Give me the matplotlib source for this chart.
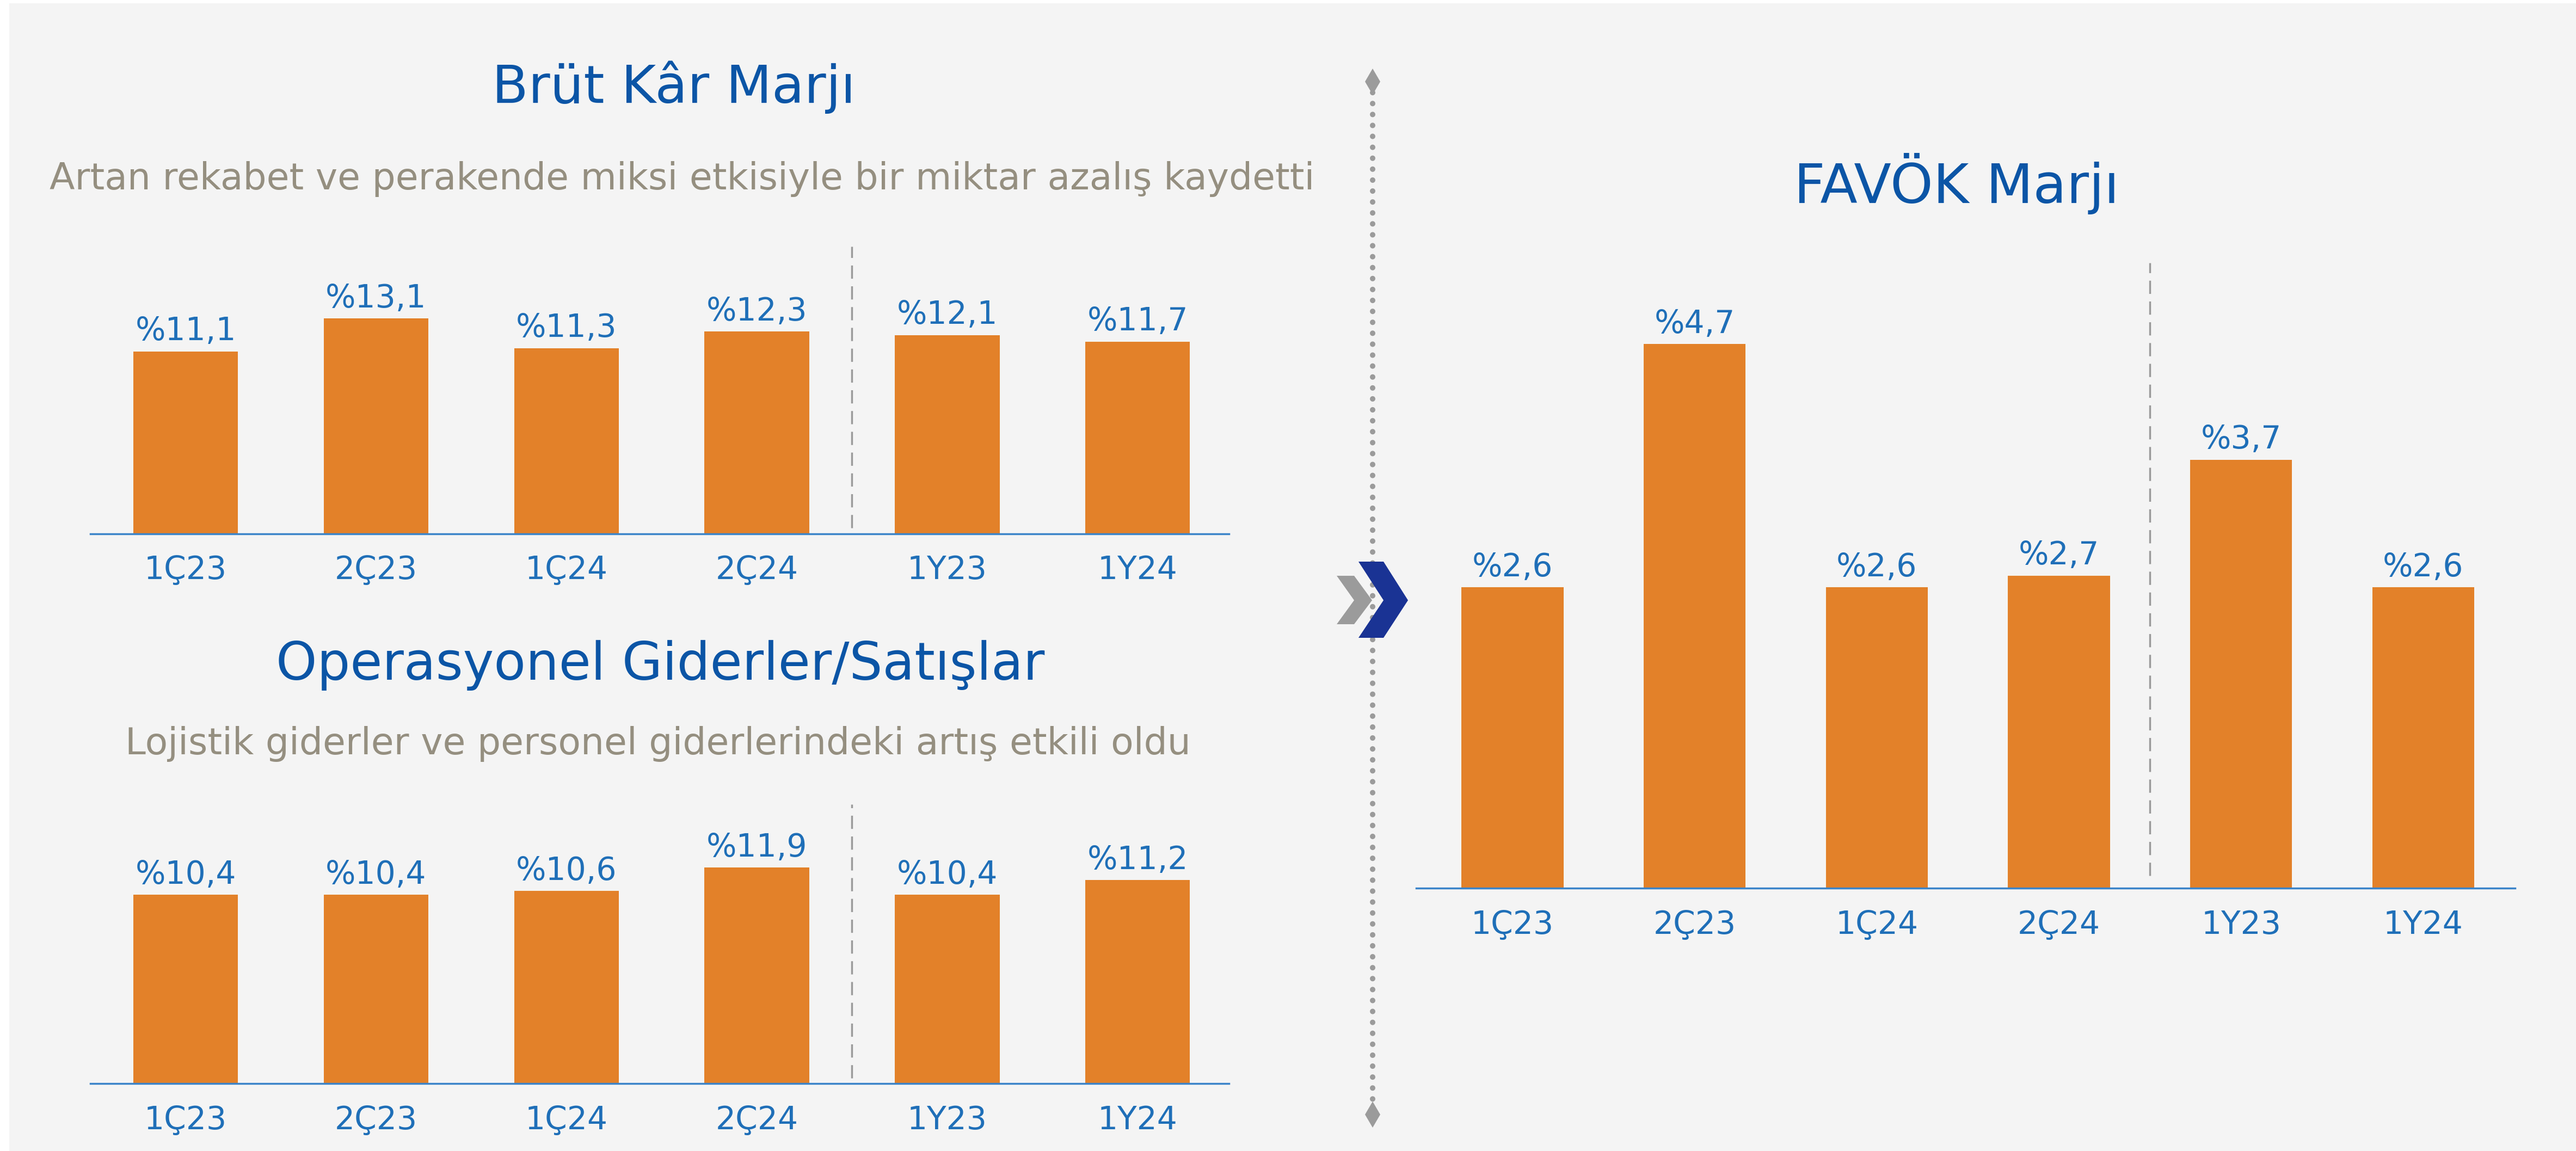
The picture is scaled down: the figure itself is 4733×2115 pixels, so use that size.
import matplotlib.pyplot as plt
from matplotlib.lines import Line2D
from matplotlib.patches import Polygon, Rectangle

# data
periods = ['1Ç23', '2Ç23', '1Ç24', '2Ç24', '1Y23', '1Y24']
brut_kar = [11.1, 13.1, 11.3, 12.3, 12.1, 11.7]
opex_satis = [10.4, 10.4, 10.6, 11.9, 10.4, 11.2]
favok = [2.6, 4.7, 2.6, 2.7, 3.7, 2.6]

W, H = 4733, 2115
ORANGE = '#e38129'
LBLUE = '#1f6fb8'
TBLUE = '#0b55a6'
AXBLUE = '#3b84c9'
SUBGRAY = '#958f80'
DGRAY = '#9b9b9b'
FONT = 'DejaVu Sans'


def px(x, y):
    # pixel (from top-left) -> figure fraction
    return x / W, 1 - y / H


def bar_panel(ax, values, width, ymax, xlim):
    x = list(range(len(values)))
    ax.bar(x, values, width=width, color=ORANGE, zorder=2)
    for xi, v in zip(x, values):
        lab = f'%{v:.1f}'.replace('.', ',')
        ax.annotate(lab, (xi, v), xytext=(0, 6), textcoords='offset points',
                    ha='center', va='bottom', fontsize=42, color=LBLUE, family=FONT)
    ax.set_xlim(*xlim)
    ax.set_ylim(0, ymax)
    ax.axvline(3.5, ymin=0.02, ymax=1, color=DGRAY, lw=2.5, linestyle=(0, (7, 4)))
    ax.set_xticks(x)
    ax.set_xticklabels(periods, fontsize=42, color=LBLUE, family=FONT)
    ax.tick_params(axis='x', length=0, pad=28)
    ax.set_yticks([])
    for s in ['top', 'right', 'left']:
        ax.spines[s].set_visible(False)
    ax.spines['bottom'].set_color(AXBLUE)
    ax.spines['bottom'].set_linewidth(2.5)
    ax.patch.set_alpha(0)


fig = plt.figure(figsize=(W / 100, H / 100), dpi=100, facecolor='white')
fig.patches.append(Rectangle((17 / W, 0), 1, 1 - 6 / H, transform=fig.transFigure,
                             facecolor='#f4f4f4', edgecolor='none', zorder=-5))

ax1 = fig.add_axes([0.0351, 0.5364, 0.4420, 0.2496])
bar_panel(ax1, brut_kar, 0.55, 17.5, (-0.5, 5.48))

ax2 = fig.add_axes([0.0351, 0.0585, 0.4420, 0.2425])
bar_panel(ax2, opex_satis, 0.55, 15.36, (-0.5, 5.48))

ax3 = fig.add_axes([0.5497, 0.2282, 0.4267, 0.5435])
bar_panel(ax3, favok, 0.56, 5.40, (-0.53, 5.505))

# titles
fig.text(0.2615, 0.9244, 'Brüt Kâr Marjı', ha='center', va='center',
         fontsize=70, color=TBLUE, family=FONT)
fig.text(0.2647, 0.8445, 'Artan rekabet ve perakende miksi etkisiyle bir miktar azalış kaydetti',
         ha='center', va='center', fontsize=49, color=SUBGRAY, family=FONT)
fig.text(0.2564, 0.4222, 'Operasyonel Giderler/Satışlar', ha='center', va='center',
         fontsize=69, color=TBLUE, family=FONT)
fig.text(0.2554, 0.3538, 'Lojistik giderler ve personel giderlerindeki artış etkili oldu',
         ha='center', va='center', fontsize=49, color=SUBGRAY, family=FONT)
fig.text(0.7596, 0.8402, 'FAVÖK Marjı', ha='center', va='center',
         fontsize=72, color=TBLUE, family=FONT)

# dotted divider with diamond ends
x0, ytop = px(2522, 150)
_, ybot = px(2522, 2048)
fig.add_artist(Line2D([x0, x0], [ytop, ybot], transform=fig.transFigure, color=DGRAY,
                      lw=7.2, linestyle=(0, (0.01, 2.0)), dash_capstyle='round'))
fig.add_artist(Line2D([x0, x0], [ytop, ybot], transform=fig.transFigure, color=DGRAY,
                      lw=0, marker='d', markersize=24, markeredgewidth=0))

# chevrons
grey_chev = [(2456, 1058), (2488, 1058), (2521, 1103), (2488, 1147), (2456, 1147), (2488, 1103)]
blue_chev = [(2496, 1032), (2542, 1032), (2587, 1103), (2542, 1172), (2496, 1172), (2542, 1103)]
fig.patches.append(Polygon([px(*p) for p in grey_chev], closed=True, transform=fig.transFigure,
                           facecolor=DGRAY, edgecolor='none', zorder=5))
fig.patches.append(Polygon([px(*p) for p in blue_chev], closed=True, transform=fig.transFigure,
                           facecolor='#1a3394', edgecolor='none', zorder=5))

fig.savefig('out.png', dpi=100, facecolor=fig.get_facecolor())
